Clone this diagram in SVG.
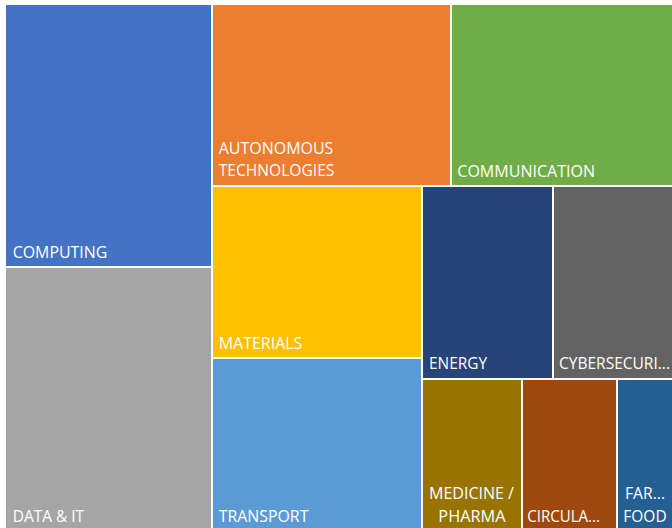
<svg xmlns="http://www.w3.org/2000/svg" width="672" height="528" viewBox="0 0 672 528">
<style>
.l{font-family:"Open Sans","Liberation Sans",Arial,sans-serif;font-size:16px;fill:#ffffff}
.c{text-anchor:middle}
</style>
<rect x="0" y="0" width="672" height="528" fill="#ffffff"/>
<g id="computing"><rect x="6" y="5" width="205" height="261" fill="#4472C4"/><text class="l" x="12.7" y="258" textLength="94.7" lengthAdjust="spacingAndGlyphs">COMPUTING</text></g>
<g id="data-it"><rect x="6" y="268" width="205" height="260" fill="#A5A5A5"/><text class="l" x="12.7" y="521.5" textLength="71.3" lengthAdjust="spacingAndGlyphs">DATA &amp; IT</text></g>
<g id="autonomous"><rect x="213" y="5" width="237" height="180" fill="#ED7D31"/><text class="l" x="218.7" y="154" textLength="114.7" lengthAdjust="spacingAndGlyphs">AUTONOMOUS</text><text class="l" x="218.7" y="176" textLength="115.7" lengthAdjust="spacingAndGlyphs">TECHNOLOGIES</text></g>
<g id="communication"><rect x="452" y="5" width="220" height="180" fill="#70AD47"/><text class="l" x="457.3" y="176.5" textLength="137.7" lengthAdjust="spacingAndGlyphs">COMMUNICATION</text></g>
<g id="materials"><rect x="213" y="187" width="208" height="170" fill="#FFC000"/><text class="l" x="218.7" y="348.5" textLength="83.7" lengthAdjust="spacingAndGlyphs">MATERIALS</text></g>
<g id="transport"><rect x="213" y="359" width="208" height="169" fill="#5B9BD5"/><text class="l" x="218.7" y="521.5" textLength="89.7" lengthAdjust="spacingAndGlyphs">TRANSPORT</text></g>
<g id="energy"><rect x="423" y="187" width="129" height="191" fill="#264478"/><text class="l" x="429" y="369" textLength="58" lengthAdjust="spacingAndGlyphs">ENERGY</text></g>
<g id="cybersecurity"><rect x="554" y="187" width="118" height="191" fill="#636363"/><text class="l" x="559" y="369" textLength="111" lengthAdjust="spacingAndGlyphs">CYBERSECURI...</text></g>
<g id="medicine"><rect x="423" y="380" width="98" height="148" fill="#997300"/><text class="l c" x="471.5" y="498.5" textLength="85" lengthAdjust="spacingAndGlyphs">MEDICINE /</text><text class="l c" x="472" y="521.5" textLength="67.3" lengthAdjust="spacingAndGlyphs">PHARMA</text></g>
<g id="circular"><rect x="523" y="380" width="93" height="148" fill="#9E480E"/><text class="l" x="527.3" y="521.5" textLength="72.7" lengthAdjust="spacingAndGlyphs">CIRCULA...</text></g>
<g id="food"><rect x="618" y="380" width="54" height="148" fill="#255E91"/><text class="l c" x="645" y="498.5" textLength="40" lengthAdjust="spacingAndGlyphs">FAR...</text><text class="l c" x="645" y="521.5" textLength="43.3" lengthAdjust="spacingAndGlyphs">FOOD</text></g>
<g id="connectors"></g>
</svg>
